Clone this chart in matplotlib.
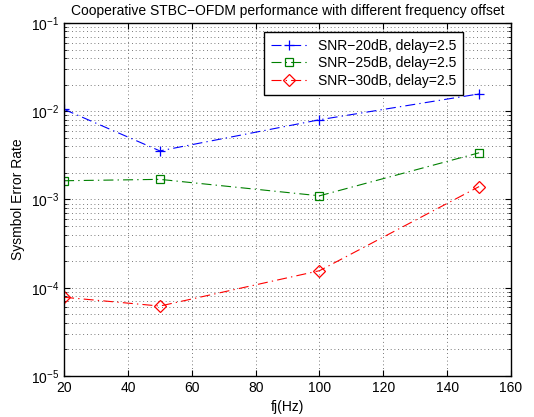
import numpy as np
import matplotlib
matplotlib.use("Agg")
import matplotlib.pyplot as plt
from matplotlib.ticker import LogLocator, NullFormatter, FixedLocator

plt.rcParams['font.family'] = ['Liberation Sans', 'DejaVu Sans']
plt.rcParams['mathtext.fontset'] = 'custom'
plt.rcParams['mathtext.rm'] = 'Liberation Sans'
plt.rcParams['mathtext.it'] = 'Liberation Sans'

# ---- data ----
fj = [20, 50, 100, 150]
ser_20 = [1.05e-2, 3.55e-3, 8.0e-3, 1.57e-2]
ser_25 = [1.63e-3, 1.69e-3, 1.10e-3, 3.38e-3]
ser_30 = [7.8e-5, 6.2e-5, 1.56e-4, 1.40e-3]
labels = ['SNR\u221220dB, delay=2.5', 'SNR\u221225dB, delay=2.5', 'SNR\u221230dB, delay=2.5']

fig = plt.figure(figsize=(5.34, 4.17), dpi=100)
ax = fig.add_axes([0.12, 0.0983, 0.837, 0.8467])

dash = (9, 3.75, 1.2, 3.75)
ax.semilogy(fj, ser_20, color='blue', marker='+', markersize=7, dashes=dash,
            linewidth=0.8, markeredgewidth=0.9, label=labels[0])
ax.semilogy(fj, ser_25, color='#008000', marker='s', markersize=6, dashes=dash,
            markerfacecolor='none', linewidth=0.8, markeredgewidth=0.9, label=labels[1])
ax.semilogy(fj, ser_30, color='red', marker='D', markersize=6, dashes=dash,
            markerfacecolor='none', linewidth=0.8, markeredgewidth=0.9, label=labels[2])

ax.set_xlim(20, 160)
ax.set_ylim(1e-5, 1e-1)
ax.xaxis.set_major_locator(FixedLocator(np.arange(20, 161, 20)))
ax.yaxis.set_major_locator(LogLocator(base=10, numticks=10))
ax.yaxis.set_minor_locator(LogLocator(base=10, subs=np.arange(2, 10), numticks=10))
ax.yaxis.set_minor_formatter(NullFormatter())

grid_style = dict(linestyle=(0, (1, 3.5)), color='black', linewidth=0.6, alpha=0.7)
ax.grid(True, which='major', **grid_style)
ax.grid(True, which='minor', axis='y', **grid_style)
ax.tick_params(which='both', direction='in', top=True, right=True, labelsize=10)
ax.tick_params(which='minor', length=2)
ax.tick_params(which='major', length=4)
for s in ax.spines.values():
    s.set_linewidth(1.0)

ax.set_xlabel('fj(Hz)', fontsize=10)
ax.set_ylabel('Sysmbol Error Rate', fontsize=10)
ax.set_title('Cooperative STBC\u2212OFDM performance with different frequency offset', fontsize=10)

leg = ax.legend(loc='upper right', bbox_to_anchor=(0.893, 0.975), borderaxespad=0,
                fontsize=10, fancybox=False, framealpha=1, edgecolor='black',
                borderpad=0.5, labelspacing=0.25, handlelength=2.6)
leg.get_frame().set_linewidth(1.0)

fig.savefig('out.png', dpi=100)
